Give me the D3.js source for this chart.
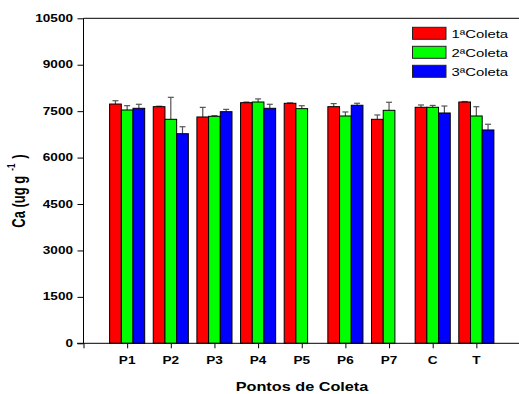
<!DOCTYPE html>
<html><head><meta charset="utf-8">
<script src="https://cdn.jsdelivr.net/npm/d3@7"></script>
<style>body{margin:0;background:#fff}svg{display:block}</style>
</head><body>
<script>
const categories = ["P1","P2","P3","P4","P5","P6","P7","C","T"];
const seriesNames = ["1ªColeta","2ªColeta","3ªColeta"];
const coleta1 = [7730,7645,7312,7774,7754,7645,7237,7625,7796];
const coleta1Err = [107,15,310,20,15,100,140,75,15];
const coleta2 = [7538,7237,7334,7796,7581,7344,7527,7625,7344];
const coleta2Err = [140,710,20,100,95,130,260,60,300];
const coleta3 = [7592,6772,7483,7592,null,7690,null,7441,6892];
const coleta3Err = [130,225,75,130,null,65,null,225,185];
const yTicks = [0,1500,3000,4500,6000,7500,9000,10500];
const colors = ["#ff0000","#00ff00","#0000ff"];

const W=519,H=394, SX=1.36;
const svg=d3.select("body").append("svg").attr("width",W).attr("height",H);
const x=d3.scaleLinear().domain([0,10]).range([83.5,520]);
const y=d3.scaleLinear().domain([0,10500]).range([343.3,18.3]);
const font="'Liberation Sans', Arial, sans-serif";
const bw=0.268;

const series=[coleta1,coleta2,coleta3], errs=[coleta1Err,coleta2Err,coleta3Err];
series.forEach((vals,s)=>{
  const g=svg.append("g");
  categories.forEach((c,i)=>{
    const v=vals[i]; if(v==null) return;
    const x0=x(i+1+(s-1.5)*bw), x1=x(i+1+(s-0.5)*bw);
    const e=errs[s][i];
    const xc=(x0+x1)/2;
    g.append("line").attr("x1",xc).attr("x2",xc).attr("y1",y(v)).attr("y2",y(v+e)).attr("stroke","#555").attr("stroke-width",1.2);
    g.append("line").attr("x1",xc-3).attr("x2",xc+3).attr("y1",y(v+e)).attr("y2",y(v+e)).attr("stroke","#555").attr("stroke-width",1.2);
    g.append("rect").attr("x",x0).attr("y",y(v)).attr("width",x1-x0).attr("height",y(0)-y(v))
      .attr("fill",colors[s]).attr("stroke","#000").attr("stroke-width",1);
  });
});

// axes
const yAxis=svg.append("g").attr("transform","translate(83.5,0)")
  .call(d3.axisLeft(y).tickValues(yTicks).tickSize(6).tickFormat(""));
yAxis.select(".domain").remove();
yAxis.selectAll("line").attr("stroke","#000");
const xAxis=svg.append("g").attr("transform",`translate(0,${y(0)})`)
  .call(d3.axisBottom(x).tickValues(d3.range(0,11)).tickSize(5).tickFormat(""));
xAxis.select(".domain").remove();
xAxis.selectAll("line").attr("stroke","#000");
svg.append("line").attr("x1",x(0)).attr("x2",x(0)).attr("y1",y(10500)).attr("y2",y(0)).attr("stroke","#000");
svg.append("line").attr("x1",77).attr("x2",W).attr("y1",y(0)).attr("y2",y(0)).attr("stroke","#000");
svg.append("line").attr("x1",x(0)).attr("x2",W).attr("y1",y(10500)).attr("y2",y(10500)).attr("stroke","#000");

yTicks.forEach(t=>{
  svg.append("text").attr("transform",`translate(73,${y(t)+3.5}) scale(${SX},1)`)
    .attr("text-anchor","end").attr("font-family",font).attr("font-weight","bold").attr("font-size",10).text(t);
});
categories.forEach((c,i)=>{
  svg.append("text").attr("transform",`translate(${x(i+1)},363.5) scale(${SX},1)`)
    .attr("text-anchor","middle").attr("font-family",font).attr("font-weight","bold").attr("font-size",10).text(c);
});
svg.append("text").attr("transform",`translate(302,391) scale(1.3,1)`)
  .attr("text-anchor","middle").attr("font-family",font).attr("font-weight","bold").attr("font-size",12.5).text("Pontos de Coleta");

const yl=svg.append("text").attr("transform",`translate(25,191) rotate(-90) scale(1,${SX})`)
  .attr("text-anchor","middle").attr("font-family",font).attr("font-weight","bold").attr("font-size",13);
yl.append("tspan").text("Ca (ug g");
yl.append("tspan").attr("dx",5).attr("dy",-7).attr("font-size",8).text("-1");
yl.append("tspan").attr("dx",5).attr("dy",7).text(")");

// legend
seriesNames.forEach((n,s)=>{
  const yy=27.3+s*19;
  svg.append("rect").attr("x",412.5).attr("y",yy).attr("width",33.5).attr("height",12)
    .attr("fill",colors[s]).attr("stroke","#222").attr("stroke-width",1);
  svg.append("text").attr("transform",`translate(451.5,${yy+11}) scale(1.35,1)`)
    .attr("font-family",font).attr("font-size",11).text(n);
});
</script>
</body></html>
